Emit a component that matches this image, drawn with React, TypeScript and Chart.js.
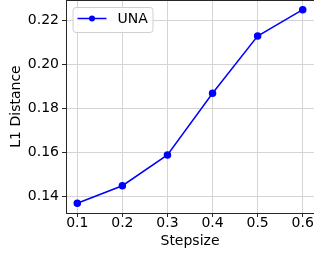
import React, { useEffect, useRef } from "react";
import { Chart, registerables } from "chart.js";

Chart.register(...registerables);

const stepsizes = [0.1, 0.2, 0.3, 0.4, 0.5, 0.6];
const l1Distance = [0.137, 0.145, 0.159, 0.187, 0.213, 0.225];
const seriesLabel = "UNA";
const xTickValues = [0.1, 0.2, 0.3, 0.4, 0.5, 0.6];
const yTickValues = [0.14, 0.16, 0.18, 0.2, 0.22];
const xAxisTitle = "Stepsize";
const yAxisTitle = "L1 Distance";

const FONT = "'DejaVu Sans', sans-serif";
const AXIS_COLOR = "#262626";
const GRID_COLOR = "#d4d4d4";

const framePlugin = {
  id: "mplFrame",
  afterDatasetsDraw(chart: any) {
    const { ctx, chartArea } = chart;
    ctx.save();
    ctx.strokeStyle = AXIS_COLOR;
    ctx.lineWidth = 1;
    ctx.beginPath();
    ctx.moveTo(chartArea.left, chartArea.top + 0.5);
    ctx.lineTo(chartArea.right, chartArea.top + 0.5);
    ctx.stroke();
    ctx.restore();
  },
};

const legendPlugin = {
  id: "mplLegend",
  afterDraw(chart: any) {
    const { ctx, chartArea } = chart;
    const ds = chart.data.datasets[0];
    const x = chartArea.left + 7;
    const y = chartArea.top + 7.5;
    const w = 80;
    const h = 25;
    const r = 3;
    ctx.save();
    ctx.beginPath();
    ctx.moveTo(x + r, y);
    ctx.lineTo(x + w - r, y);
    ctx.quadraticCurveTo(x + w, y, x + w, y + r);
    ctx.lineTo(x + w, y + h - r);
    ctx.quadraticCurveTo(x + w, y + h, x + w - r, y + h);
    ctx.lineTo(x + r, y + h);
    ctx.quadraticCurveTo(x, y + h, x, y + h - r);
    ctx.lineTo(x, y + r);
    ctx.quadraticCurveTo(x, y, x + r, y);
    ctx.closePath();
    ctx.fillStyle = "rgba(255,255,255,0.85)";
    ctx.fill();
    ctx.strokeStyle = "#d0d0d0";
    ctx.lineWidth = 1;
    ctx.stroke();

    const cy = y + 11;
    ctx.strokeStyle = ds.borderColor;
    ctx.lineWidth = ds.borderWidth;
    ctx.beginPath();
    ctx.moveTo(x + 4.5, cy);
    ctx.lineTo(x + 33.5, cy);
    ctx.stroke();
    ctx.fillStyle = ds.pointBackgroundColor;
    ctx.beginPath();
    ctx.arc(x + 19, cy, ds.pointRadius, 0, Math.PI * 2);
    ctx.fill();

    ctx.fillStyle = "#000";
    ctx.font = `14px ${FONT}`;
    ctx.textAlign = "left";
    ctx.textBaseline = "middle";
    ctx.fillText(ds.label, x + 44.5, cy + 1);
    ctx.restore();
  },
};

const zeroPadding = (scale: any) => {
  scale.paddingLeft = 0;
  scale.paddingRight = 0;
  scale.paddingTop = 0;
  scale.paddingBottom = 0;
};

export default function App() {
  const canvasRef = useRef<HTMLCanvasElement | null>(null);

  useEffect(() => {
    document.body.style.margin = "0";
    const canvas = canvasRef.current;
    if (!canvas) return;
    const chart = new Chart(canvas, {
      type: "scatter",
      data: {
        datasets: [
          {
            label: seriesLabel,
            data: stepsizes.map((s, i) => ({ x: s, y: l1Distance[i] })),
            showLine: true,
            borderColor: "#0000ff",
            backgroundColor: "#0000ff",
            pointBackgroundColor: "#0000ff",
            pointBorderColor: "#0000ff",
            borderWidth: 1.5,
            pointRadius: 3,
            pointHoverRadius: 3,
            tension: 0,
          } as any,
        ],
      },
      options: {
        animation: false,
        responsive: false,
        maintainAspectRatio: false,
        events: [],
        layout: { autoPadding: false, padding: { top: 0, right: 0, left: 0, bottom: 0 } },
        plugins: {
          legend: { display: false },
          tooltip: { enabled: false },
        },
        scales: {
          x: {
            type: "linear",
            min: 0.075,
            max: 0.625,
            afterBuildTicks: (scale: any) => {
              scale.ticks = xTickValues.map((v) => ({ value: v }));
            },
            afterFit: (scale: any) => {
              scale.height = 41;
              zeroPadding(scale);
            },
            grid: {
              color: GRID_COLOR,
              lineWidth: 1,
              drawTicks: true,
              tickLength: 4,
              tickColor: AXIS_COLOR,
            },
            border: { display: true, color: AXIS_COLOR, width: 1 },
            ticks: {
              autoSkip: false,
              maxRotation: 0,
              padding: -2,
              color: "#000",
              font: { family: FONT, size: 14 },
              callback: (v: any) => Number(v).toFixed(1),
            },
            title: {
              display: true,
              text: xAxisTitle,
              color: "#000",
              font: { family: FONT, size: 14 },
              padding: { top: 0, bottom: 4 },
            },
          },
          y: {
            type: "linear",
            min: 0.1326,
            max: 0.2294,
            afterBuildTicks: (scale: any) => {
              scale.ticks = yTickValues.map((v) => ({ value: v }));
            },
            afterFit: (scale: any) => {
              scale.width = 66;
              zeroPadding(scale);
            },
            grid: {
              color: GRID_COLOR,
              lineWidth: 1,
              drawTicks: true,
              tickLength: 4,
              tickColor: AXIS_COLOR,
            },
            border: { display: true, color: AXIS_COLOR, width: 1 },
            ticks: {
              autoSkip: false,
              padding: 3,
              color: "#000",
              font: { family: FONT, size: 14 },
              callback: (v: any) => Number(v).toFixed(2),
            },
            title: {
              display: true,
              text: yAxisTitle,
              color: "#000",
              font: { family: FONT, size: 14 },
              padding: { top: 8, bottom: 0 },
            },
          },
        },
      },
      plugins: [framePlugin, legendPlugin],
    });
    return () => chart.destroy();
  }, []);

  return (
    <div style={{ position: "fixed", left: 0, top: 0, width: 314, height: 254 }}>
      <canvas ref={canvasRef} width={314} height={254} style={{ display: "block", width: 314, height: 254 }} />
    </div>
  );
}
